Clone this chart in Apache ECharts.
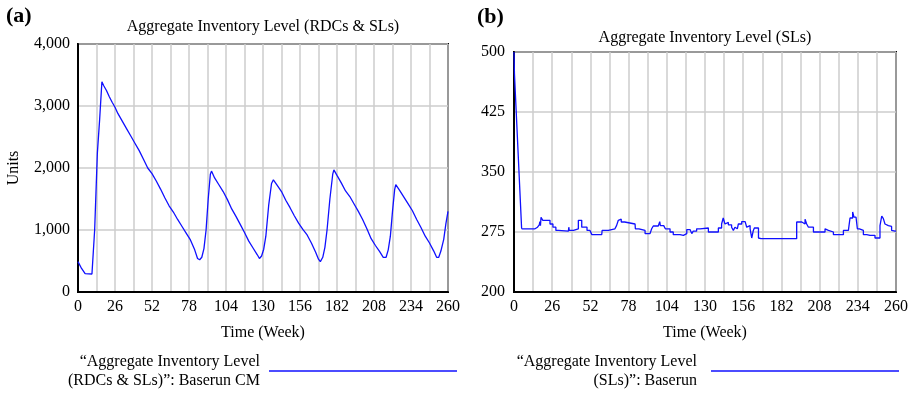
<!DOCTYPE html>
<html>
<head>
<meta charset="utf-8">
<script src="https://cdn.jsdelivr.net/npm/echarts@6/dist/echarts.min.js"></script>
<style>
html,body{margin:0;padding:0;background:#fff;}
#chart{width:912px;height:393px;}
</style>
</head>
<body>
<div id="chart"></div>
<script>
// ---- Data ----
// Panel (a): Aggregate Inventory Level (RDCs & SLs) -- [week, units]
const aWeeks = [0, 2.5, 5, 9.8, 11.7, 13.6, 15.2, 16.8, 18, 20, 22, 24, 26, 28, 31, 34, 37, 40, 43, 46, 49, 52, 55, 58, 61, 64, 67, 70, 73, 76, 79, 82, 84, 85.5, 87, 88.5, 90, 91.5, 93, 93.8, 96, 99, 102, 105, 108, 111, 114, 117, 120, 123, 126, 127.5, 129, 130.5, 132, 134, 136, 137.3, 140, 143, 146, 149, 152, 155, 158, 161, 164, 167, 169, 170.3, 172, 173.5, 175, 177, 179, 179.8, 182, 185, 188, 191, 194, 197, 200, 203, 206, 209, 212, 214.5, 216.5, 218, 219.5, 221, 222.5, 223.3, 226, 229, 232, 235, 238, 241, 244, 247, 250, 252, 253.5, 255, 257, 258.5, 260];
const aValues = [490, 380, 295, 290, 1000, 2240, 2780, 3390, 3330, 3250, 3150, 3060, 2980, 2880, 2760, 2640, 2520, 2400, 2280, 2140, 2000, 1910, 1790, 1660, 1520, 1390, 1290, 1170, 1060, 950, 840, 680, 540, 520, 560, 700, 1000, 1500, 1900, 1950, 1840, 1730, 1620, 1490, 1340, 1220, 1090, 960, 820, 710, 600, 540, 580, 690, 900, 1400, 1750, 1810, 1720, 1620, 1480, 1360, 1230, 1110, 1010, 920, 790, 640, 530, 490, 560, 720, 1000, 1500, 1900, 1970, 1880, 1760, 1630, 1540, 1420, 1300, 1170, 1020, 860, 750, 650, 560, 560, 680, 900, 1300, 1650, 1730, 1640, 1530, 1420, 1310, 1170, 1040, 900, 790, 660, 560, 560, 660, 850, 1100, 1300];

// Panel (b): Aggregate Inventory Level (SLs) -- initial decline (plain line)
const bDropWeeks = [0, 0.3, 5.2];
const bDropValues = [500, 473, 279];
// Panel (b): stepped part -- value holds from each week until the next
const bWeeks = [5.2, 14.3, 16, 17.2, 17.6, 18, 18.4, 19.6, 24.5, 26.5, 28.5, 30.2, 37, 37.3, 37.6, 40.5, 43.8, 46.1, 47.5, 48.6, 49.7, 51.7, 53, 59.7, 60, 64.2, 68.7, 69.8, 71, 72, 73, 75.3, 82.4, 82.6, 85, 86, 89.2, 92.6, 93.7, 94.8, 98.2, 99.2, 99.6, 101.9, 103, 106.2, 108.4, 113, 115.3, 117.6, 119.8, 121, 122, 124.3, 126.6, 132.3, 139.1, 141.3, 142.4, 143.6, 144.7, 145.9, 148.1, 149.3, 150.4, 151.1, 152, 152.7, 155, 157.3, 158.4, 159.5, 160.7, 161.8, 162.9, 163.6, 164.1, 166.4, 167.5, 168.1, 192.4, 192.9, 195.9, 197, 198.1, 199.2, 200.4, 203.8, 204.9, 211.7, 212.4, 214, 217.4, 217.8, 224.2, 224.6, 227.6, 228.7, 230.5, 231.4, 232.8, 233.7, 235.1, 237.8, 240.1, 242.3, 245.7, 246.9, 249.1, 250.3, 251.4, 252.5, 253.7, 254.8, 255.9, 257, 258.2, 259.4, 260];
const bValues = [279, 281, 283, 284, 288, 283, 293.5, 289.6, 285, 281, 277, 276, 276, 281, 277, 279, 289.6, 281, 279, 281, 277, 275, 271.7, 270.8, 277, 279, 280, 283, 289.6, 291, 287.5, 285, 283, 279, 281, 277, 273, 273, 279, 282.5, 283, 288, 283, 282, 279, 275, 271.7, 270.8, 273, 278, 275.5, 273, 276, 279, 280, 275, 280, 285, 292.5, 285, 287, 284, 281, 277, 281, 279, 281, 285, 288, 287, 281, 283, 279, 267.5, 277, 280, 280, 267.5, 266.7, 266.7, 287.5, 287.5, 289.5, 285, 291, 285, 281, 275, 275, 279, 277, 275, 271.7, 271.7, 277, 277, 275, 292.5, 300, 293.5, 293.5, 279, 277, 271.7, 270.8, 270.8, 267.5, 267.5, 283, 295, 291.7, 285, 283, 281, 282, 277, 276, 276];

// Axis ticks
const xTickStep = 13;
const xLabelStep = 26;
const aYTicks = [0, 1000, 2000, 3000, 4000];
const bYTicks = [200, 275, 350, 425, 500];

// Texts
const aTitle = 'Aggregate Inventory Level (RDCs & SLs)';
const bTitle = 'Aggregate Inventory Level (SLs)';
const aLegend = ['\u201CAggregate Inventory Level', '(RDCs & SLs)\u201D: Baserun CM'];
const bLegend = ['\u201CAggregate Inventory Level', '(SLs)\u201D: Baserun'];
const xName = 'Time (Week)';
const aYName = 'Units';

// ---- Chart ----
const FONT = "'Liberation Serif', 'Times New Roman', serif";
const FS = 16;
const BLUE = '#1010ff';
const GRID_C = '#cccccc';
const zip = (xs, ys) => xs.map((x, i) => [x, ys[i]]);

const xAxisBase = (gridIndex) => ({
  type: 'value', gridIndex, min: 0, max: 260, interval: xTickStep,
  name: xName, nameLocation: 'middle', nameGap: 33,
  nameTextStyle: { fontFamily: FONT, fontSize: FS, color: '#000' },
  axisLine: { show: true, onZero: false, lineStyle: { color: '#000', width: 2 } },
  axisTick: { show: false },
  axisLabel: { fontFamily: FONT, fontSize: FS, color: '#000', margin: 7,
    formatter: v => (v % xLabelStep === 0 ? String(v) : '') },
  splitLine: { show: true, lineStyle: { color: GRID_C, width: 1.5 } }
});

const chart = echarts.init(document.getElementById('chart'), null, { renderer: 'canvas' });
chart.setOption({
  animation: false,
  backgroundColor: '#fff',
  grid: [
    { left: 78, top: 44, width: 370, height: 248, show: true, borderColor: '#000', borderWidth: 2, backgroundColor: 'transparent' },
    { left: 514, top: 52, width: 382, height: 240, show: true, borderColor: '#000', borderWidth: 2, backgroundColor: 'transparent' }
  ],
  xAxis: [xAxisBase(0), xAxisBase(1)],
  yAxis: [
    { type: 'value', gridIndex: 0, min: aYTicks[0], max: aYTicks[aYTicks.length - 1], interval: aYTicks[1] - aYTicks[0],
      name: aYName, nameLocation: 'middle', nameGap: 56, nameRotate: 90,
      nameTextStyle: { fontFamily: FONT, fontSize: FS, color: '#000' },
      axisLine: { show: true, lineStyle: { color: '#000', width: 2 } },
      axisTick: { show: false },
      axisLabel: { fontFamily: FONT, fontSize: FS, color: '#000', margin: 8,
        formatter: v => v.toLocaleString('en-US') },
      splitLine: { show: true, lineStyle: { color: GRID_C, width: 1.5 } } },
    { type: 'value', gridIndex: 1, min: bYTicks[0], max: bYTicks[bYTicks.length - 1], interval: bYTicks[1] - bYTicks[0],
      axisLine: { show: true, lineStyle: { color: '#000', width: 2 } },
      axisTick: { show: false },
      axisLabel: { fontFamily: FONT, fontSize: FS, color: '#000', margin: 9 },
      splitLine: { show: true, lineStyle: { color: GRID_C, width: 1.5 } } }
  ],
  series: [
    { type: 'line', xAxisIndex: 0, yAxisIndex: 0, data: zip(aWeeks, aValues), showSymbol: false,
      lineStyle: { color: BLUE, width: 1.3 }, z: 5 },
    { type: 'line', xAxisIndex: 1, yAxisIndex: 1, data: zip(bDropWeeks, bDropValues), showSymbol: false,
      lineStyle: { color: BLUE, width: 1.3 }, z: 5 },
    { type: 'line', xAxisIndex: 1, yAxisIndex: 1, data: zip(bWeeks, bValues), step: 'end', showSymbol: false,
      lineStyle: { color: BLUE, width: 1.3 }, z: 5 }
  ],
  graphic: [
    { type: 'text', x: 6, y: 16, style: { text: '(a)', fontFamily: FONT, fontSize: 22, fontWeight: 'bold', fill: '#000', textAlign: 'left', textVerticalAlign: 'middle' } },
    { type: 'text', x: 477, y: 17, style: { text: '(b)', fontFamily: FONT, fontSize: 22, fontWeight: 'bold', fill: '#000', textAlign: 'left', textVerticalAlign: 'middle' } },
    { type: 'text', x: 263, y: 27, style: { text: aTitle, fontFamily: FONT, fontSize: FS, fill: '#000', textAlign: 'center', textVerticalAlign: 'middle' } },
    { type: 'text', x: 705, y: 38, style: { text: bTitle, fontFamily: FONT, fontSize: FS, fill: '#000', textAlign: 'center', textVerticalAlign: 'middle' } },
    { type: 'text', x: 260, y: 362, style: { text: aLegend[0], fontFamily: FONT, fontSize: FS, fill: '#000', textAlign: 'right', textVerticalAlign: 'middle' } },
    { type: 'text', x: 260, y: 381, style: { text: aLegend[1], fontFamily: FONT, fontSize: FS, fill: '#000', textAlign: 'right', textVerticalAlign: 'middle' } },
    { type: 'line', shape: { x1: 269, y1: 371, x2: 457, y2: 371 }, style: { stroke: BLUE, lineWidth: 1.3 } },
    { type: 'text', x: 697, y: 362, style: { text: bLegend[0], fontFamily: FONT, fontSize: FS, fill: '#000', textAlign: 'right', textVerticalAlign: 'middle' } },
    { type: 'text', x: 697, y: 381, style: { text: bLegend[1], fontFamily: FONT, fontSize: FS, fill: '#000', textAlign: 'right', textVerticalAlign: 'middle' } },
    { type: 'line', shape: { x1: 711, y1: 371, x2: 899, y2: 371 }, style: { stroke: BLUE, lineWidth: 1.3 } }
  ]
});
</script>
</body>
</html>
